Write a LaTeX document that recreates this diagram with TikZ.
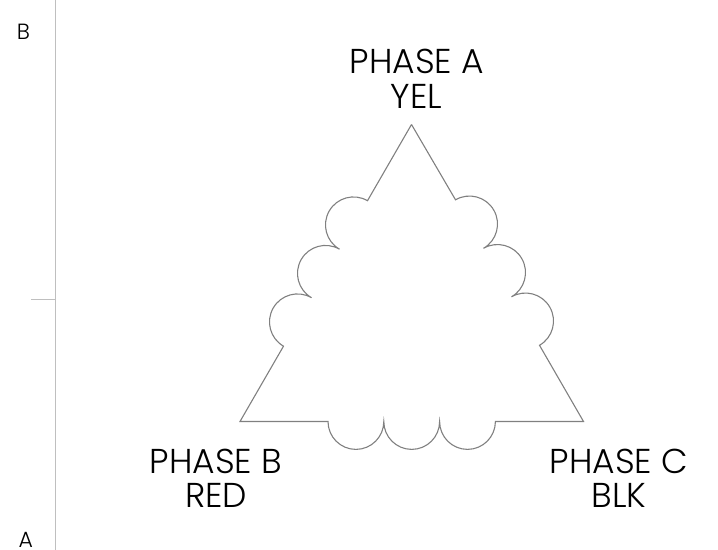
\documentclass[tikz,border=0pt]{standalone}
\usepackage{fontspec}
\setmainfont{Poppins Light}
\tikzset{
  x=1bp,y=1bp,
  wire/.style={draw=black!50,line width=1.1bp,line join=miter},
  rule/.style={draw=black!25,line width=1bp},
  phase/.style={inner sep=0pt,font=\fontsize{34.5bp}{40bp}\selectfont,text=black,anchor=base},
  corner/.style={inner sep=0pt,font=\fontsize{22bp}{26bp}\selectfont,text=black,anchor=base}
}
\begin{document}
\begin{tikzpicture}
\useasboundingbox (0,0) rectangle (718,550);
\coordinate (ruleTop) at (55,550);
\coordinate (ruleBot) at (55,0);
\coordinate (tick) at (31,250.5);
\coordinate (tickEnd) at (55,250.5);
\draw[rule] (ruleTop) -- (ruleBot);
\draw[rule] (tick) -- (tickEnd);
\coordinate (apex) at (411.5,425.5);
\coordinate (phB) at (240,128.5);
\coordinate (phC) at (583.5,128.5);
\coordinate (rightStart) at (539.5,204.7);
\coordinate (botStart) at (328,128.5);
\draw[wire] (apex) -- (367.5,349.3)
  arc[start angle=60,end angle=240,radius=28]
  arc[start angle=60,end angle=240,radius=28]
  arc[start angle=60,end angle=240,radius=28]
  -- (phB) -- (botStart)
  arc[start angle=180,end angle=360,radius=27.9]
  arc[start angle=180,end angle=360,radius=27.9]
  arc[start angle=180,end angle=360,radius=27.9]
  -- (phC) -- (rightStart)
  arc[start angle=300,end angle=480,radius=28]
  arc[start angle=300,end angle=480,radius=28]
  arc[start angle=300,end angle=480,radius=28]
  -- (apex);
\node[phase] (pa1) at (417,476) {PHASE A};
\node[phase] (pa2) at (416.5,441.5) {YEL};
\node[phase] (pb1) at (216,76) {PHASE B};
\node[phase] (pb2) at (216,42) {RED};
\node[phase] (pc1) at (619,76) {PHASE C};
\node[phase] (pc2) at (619,42) {BLK};
\node[corner] (lb) at (23.5,510) {B};
\node[corner] (la) at (25.7,2.5) {A};
\end{tikzpicture}
\end{document}
